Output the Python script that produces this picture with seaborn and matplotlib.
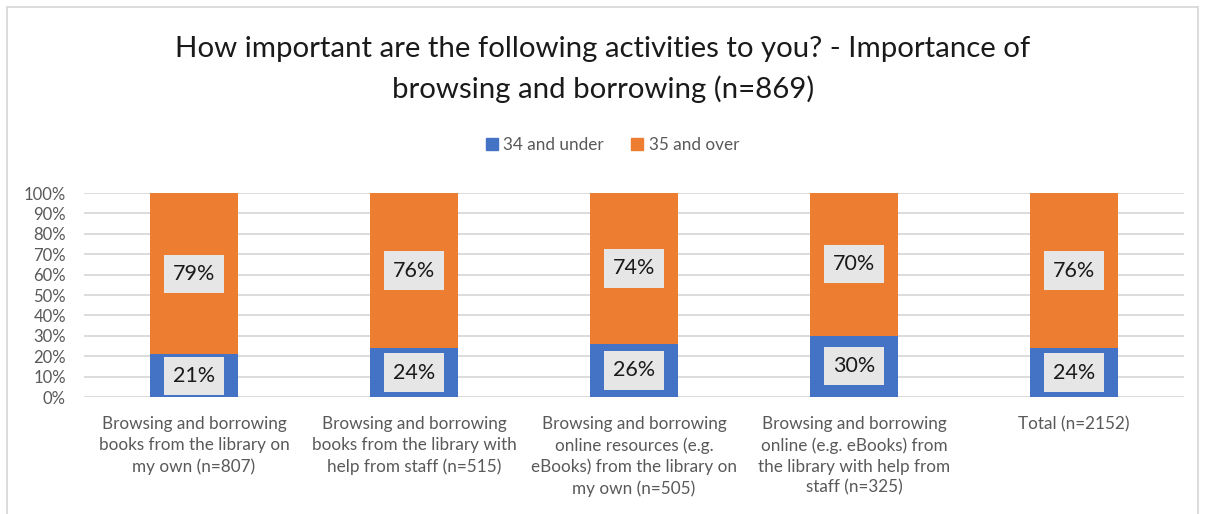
import matplotlib
matplotlib.use("Agg")
import matplotlib.pyplot as plt
from matplotlib.patches import Rectangle
import seaborn as sns
import pandas as pd

categories = [
    "Browsing and borrowing\nbooks from the library on\nmy own (n=807)",
    "Browsing and borrowing\nbooks from the library with\nhelp from staff (n=515)",
    "Browsing and borrowing\nonline resources (e.g.\neBooks) from the library on\nmy own (n=505)",
    "Browsing and borrowing\nonline (e.g. eBooks) from\nthe library with help from\nstaff (n=325)",
    "Total (n=2152)",
]
under_34 = [21, 24, 26, 30, 24]
over_35 = [79, 76, 74, 70, 76]
series_names = ["34 and under", "35 and over"]
yticks = [0, 10, 20, 30, 40, 50, 60, 70, 80, 90, 100]

BLUE = "#4472C4"
ORANGE = "#ED7D31"
GRID = "#D9D9D9"
TEXT = "#595959"

sns.set_theme(style="white")
plt.rcParams["font.family"] = ["Lato", "DejaVu Sans"]

W, H = 1206, 514
fig = plt.figure(figsize=(W / 100, H / 100), dpi=100)
ax = fig.add_axes([84 / W, 1 - 397 / H, 1100 / W, 204 / H])

df = pd.DataFrame({
    "category": categories,
    "under": under_34,
    "over": over_35,
})
df["stack_top"] = df["under"] + df["over"]

sns.barplot(data=df, x="category", y="stack_top", color=ORANGE, width=0.4,
            saturation=1, ax=ax, zorder=2)
sns.barplot(data=df, x="category", y="under", color=BLUE, width=0.4,
            saturation=1, ax=ax, zorder=3)
for p in ax.patches:
    p.set_linewidth(0)

ax.set_xlim(-0.5, len(categories) - 0.5)
ax.set_ylim(0, 100)
ax.set_yticks(yticks)
ax.set_yticklabels([f"{v}%" for v in yticks])
ax.yaxis.grid(True, color=GRID, linewidth=1.3, zorder=0)
ax.set_axisbelow(True)
for s in ax.spines.values():
    s.set_visible(False)
ax.set_xlabel("")
ax.set_ylabel("")
ax.tick_params(axis="y", length=0, pad=13, labelsize=12, labelcolor=TEXT)
ax.tick_params(axis="x", length=0, pad=14, labelsize=12.3, labelcolor=TEXT)
for lab in ax.get_xticklabels():
    lab.set_linespacing(1.36)
    lab.set_verticalalignment("top")

# data labels in grey boxes
box = dict(boxstyle="square,pad=0.42", facecolor="#E7E6E6", edgecolor="none")
for i, (u, o) in enumerate(zip(under_34, over_35)):
    ax.text(i, u / 2, f"{u}%", ha="center", va="center", fontsize=15.5,
            color="#1a1a1a", bbox=box, zorder=5)
    ax.text(i, u + o / 2, f"{o}%", ha="center", va="center", fontsize=15.5,
            color="#1a1a1a", bbox=box, zorder=5)

fig.text(0.5, 1 - 49 / H, "How important are the following activities to you? - Importance of",
         ha="center", va="center", fontsize=21.2, color="#1a1a1a")
fig.text(0.5, 1 - 89 / H, "browsing and borrowing (n=869)",
         ha="center", va="center", fontsize=21.2, color="#1a1a1a")

handles = [Rectangle((0, 0), 1, 1, color=BLUE), Rectangle((0, 0), 1, 1, color=ORANGE)]
fig.legend(handles, series_names, loc="center", bbox_to_anchor=(0.508, 1 - 145 / H),
           ncol=2, frameon=False, fontsize=12.3, labelcolor=TEXT,
           handlelength=0.7, handleheight=0.7, handletextpad=0.3, columnspacing=1.6)

# chart frame
fig.patches.append(Rectangle((7 / W, -0.05), (1198 - 7) / W, 1.05 - 7 / H,
                             transform=fig.transFigure, fill=False,
                             edgecolor=GRID, linewidth=1.3))

fig.savefig("out.png", dpi=100)
